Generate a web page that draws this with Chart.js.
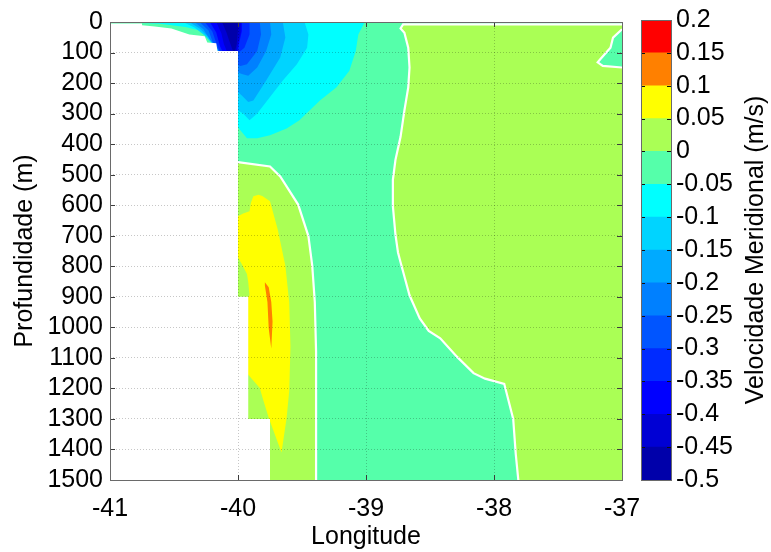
<!DOCTYPE html>
<html>
<head>
<meta charset="utf-8">
<script src="https://cdn.jsdelivr.net/npm/chart.js"></script>
<style>
  body { margin: 0; background: #fff; }
  #quadro { position: relative; width: 771px; height: 552px; }
  #quadro canvas { position: absolute; left: 0; top: 0; }
</style>
</head>
<body>
<div id="quadro">
  <canvas id="secao" width="771" height="552"></canvas>
  <canvas id="escala" width="771" height="552"></canvas>
</div>
<script>
// eixos
const lonTicks = [-41, -40, -39, -38, -37];
const depthTicks = [0, 100, 200, 300, 400, 500, 600, 700, 800, 900, 1000, 1100, 1200, 1300, 1400, 1500];

// niveis do contourf (m/s) e cor de cada faixa
const levels = [-0.5, -0.45, -0.4, -0.35, -0.3, -0.25, -0.2, -0.15, -0.1, -0.05, 0, 0.05, 0.1, 0.15, 0.2];
const bandColors = ['#0000aa', '#0000d4', '#0000ff', '#002bff', '#0055ff', '#0080ff', '#00aaff',
                    '#00d4ff', '#00ffff', '#55ffaa', '#aaff55', '#ffff00', '#ff8000', '#ff0000'];

// isolinha de 0 m/s, [longitude, profundidade]
const zeroLineEast = [[-37, 8], [-38.71, 8], [-38.73, 21], [-38.70, 35], [-38.67, 84], [-38.66, 149],
  [-38.67, 214], [-38.70, 290], [-38.73, 376], [-38.77, 452], [-38.79, 517], [-38.79, 603],
  [-38.77, 696], [-38.75, 755], [-38.73, 787], [-38.66, 895], [-38.58, 971], [-38.51, 1012],
  [-38.42, 1036], [-38.29, 1096], [-38.16, 1150], [-38.07, 1168], [-37.92, 1185], [-37.85, 1300],
  [-37.83, 1415], [-37.81, 1500]];
const zeroLineNE = [[-37, 24], [-37.07, 51], [-37.09, 84], [-37.17, 122], [-37.19, 132], [-37.15, 144], [-37, 149]];
const zeroLineWest = [[-40.0, 459], [-39.75, 473], [-39.67, 506], [-39.53, 598], [-39.45, 701],
  [-39.42, 798], [-39.40, 917], [-39.39, 1080], [-39.39, 1500]];

// nucleo positivo junto ao talude
const core005 = [[-39.84, 566], [-39.81, 570], [-39.75, 587], [-39.69, 679], [-39.63, 798], [-39.60, 917],
  [-39.59, 1063], [-39.60, 1209], [-39.62, 1296], [-39.66, 1410], [-39.70, 1365], [-39.76, 1296],
  [-39.80, 1242], [-39.83, 1199], [-39.92, 1155], [-39.96, 1155], [-39.96, 917], [-39.91, 895],
  [-39.92, 852], [-39.93, 825], [-39.97, 793], [-40.0, 771], [-40.05, 771], [-40.05, 635],
  [-40.0, 636], [-39.96, 627], [-39.91, 620], [-39.90, 593], [-39.88, 571]];
const core010 = [[-39.79, 852], [-39.76, 869], [-39.74, 917], [-39.73, 982], [-39.74, 1069],
  [-39.76, 1004], [-39.77, 917], [-39.79, 863]];

// corrente para o sul (valores negativos)
const neg005 = [[-41, 0], [-41, 3], [-40.76, 3], [-40.61, 6], [-40.41, 16], [-40.30, 28], [-40.24, 37],
  [-40.20, 60], [-40.17, 73], [-40.06, 138], [-40.06, 365], [-40.0, 344], [-39.98, 355], [-39.93, 381],
  [-39.85, 381], [-39.75, 371], [-39.62, 349], [-39.52, 322], [-39.36, 257], [-39.23, 214],
  [-39.13, 160], [-39.08, 95], [-39.06, 41], [-39.01, 0]];
const neg010 = [[-40.43, 0], [-40.34, 18], [-40.26, 44], [-40.18, 80], [-40.10, 138], [-40.08, 300],
  [-40.0, 290], [-39.96, 300], [-39.91, 322], [-39.85, 300], [-39.75, 246], [-39.65, 192],
  [-39.54, 138], [-39.46, 84], [-39.45, 41], [-39.48, 0]];
const neg015 = [[-40.38, 0], [-40.30, 21], [-40.23, 50], [-40.17, 86], [-40.10, 138], [-40.08, 242],
  [-40.0, 230], [-39.97, 241], [-39.92, 262], [-39.88, 257], [-39.78, 192], [-39.67, 116],
  [-39.63, 51], [-39.65, 0]];
const neg020 = [[-40.34, 0], [-40.27, 24], [-40.22, 57], [-40.16, 89], [-40.09, 138], [-40.06, 170],
  [-40.0, 165], [-39.97, 170], [-39.92, 176], [-39.85, 149], [-39.78, 95], [-39.74, 41], [-39.75, 0]];
const neg025 = [[-40.30, 0], [-40.23, 28], [-40.20, 63], [-40.15, 93], [-40.09, 138], [-40.05, 148],
  [-40.0, 141], [-39.98, 144], [-39.93, 138], [-39.85, 95], [-39.82, 41], [-39.83, 0]];
const neg030 = [[-40.26, 0], [-40.20, 31], [-40.17, 70], [-40.13, 106], [-40.08, 138], [-40.0, 99],
  [-39.98, 95], [-39.95, 84], [-39.91, 41], [-39.91, 0]];
const neg035 = [[-40.22, 0], [-40.17, 34], [-40.14, 80], [-40.09, 122], [-40.0, 95], [-39.99, 67],
  [-39.97, 30], [-39.97, 0]];
const neg040 = [[-40.17, 0], [-40.13, 37], [-40.11, 73], [-40.06, 122], [-40.02, 122], [-40.0, 73],
  [-39.98, 34], [-39.98, 0]];
const neg045 = [[-40.125, 0], [-40.09, 34], [-40.07, 60], [-40.03, 106], [-40.01, 73], [-40.0, 24], [-40.0, 0]];

// fundo (sem dados)
const seabed = [[-41, 5], [-40.75, 5], [-40.75, 11], [-40.65, 15], [-40.52, 21], [-40.45, 31],
  [-40.38, 41], [-40.26, 47], [-40.24, 67], [-40.17, 70], [-40.16, 95], [-40.0, 95], [-40.0, 900],
  [-39.92, 900], [-39.92, 1300], [-39.75, 1300], [-39.75, 1500], [-41, 1500]];

// regioes preenchidas, na ordem de pintura: [poligono, limite inferior da faixa]
const regions = [
  [[[-41, 0], [-37, 0], [-37, 1500], [-41, 1500]], -0.05],
  [zeroLineEast.concat([[-37, 1500]]), 0],
  [zeroLineNE, -0.05],
  [zeroLineWest.concat([[-40.1, 1500], [-40.1, 459]]), 0],
  [core005, 0.05],
  [core010, 0.1],
  [neg005, -0.1],
  [neg010, -0.15],
  [neg015, -0.2],
  [neg020, -0.25],
  [neg025, -0.3],
  [neg030, -0.35],
  [neg035, -0.4],
  [neg040, -0.45],
  [neg045, -0.5]
];

Chart.defaults.font.family = "'Liberation Sans', Arial, sans-serif";
Chart.defaults.font.size = 25;
Chart.defaults.color = '#000';

function tracePoly(ctx, x, y, pts) {
  ctx.beginPath();
  pts.forEach(([lon, dep], i) => {
    const px = x.getPixelForValue(lon);
    const py = y.getPixelForValue(dep);
    if (i === 0) ctx.moveTo(px, py); else ctx.lineTo(px, py);
  });
  ctx.closePath();
}

const contourFill = {
  id: 'contourFill',
  beforeDatasetsDraw(chart) {
    const {ctx, chartArea: a, scales: {x, y}} = chart;
    ctx.save();
    ctx.beginPath();
    ctx.rect(a.left, a.top, a.right - a.left, a.bottom - a.top);
    ctx.clip();
    regions.forEach(([pts, lower]) => {
      tracePoly(ctx, x, y, pts);
      ctx.fillStyle = bandColors[levels.indexOf(lower)];
      ctx.fill();
    });
    tracePoly(ctx, x, y, seabed);
    ctx.fillStyle = '#fff';
    ctx.fill();
    ctx.restore();
  }
};

// moldura com marcas para dentro nos quatro lados
const axesBox = {
  id: 'axesBox',
  afterDraw(chart) {
    const {ctx, chartArea: a, scales: {x, y}} = chart;
    ctx.save();
    ctx.strokeStyle = '#3c3c3c';
    ctx.lineWidth = 1;
    ctx.beginPath();
    lonTicks.forEach(v => {
      const px = Math.round(x.getPixelForValue(v)) + 0.5;
      ctx.moveTo(px, a.bottom); ctx.lineTo(px, a.bottom - 5);
      ctx.moveTo(px, a.top); ctx.lineTo(px, a.top + 5);
    });
    depthTicks.forEach(v => {
      const py = Math.round(y.getPixelForValue(v)) + 0.5;
      ctx.moveTo(a.left, py); ctx.lineTo(a.left + 5, py);
      ctx.moveTo(a.right, py); ctx.lineTo(a.right - 5, py);
    });
    ctx.stroke();
    ctx.strokeStyle = '#6a6a6a';
    ctx.strokeRect(Math.round(a.left) + 0.5, Math.round(a.top) + 0.5,
                   Math.round(a.right - a.left), Math.round(a.bottom - a.top));
    ctx.restore();
  }
};

const whiteLine = pts => ({
  data: pts.map(([lon, dep]) => ({x: lon, y: dep})),
  showLine: true,
  borderColor: '#ffffff',
  borderWidth: 2.2,
  pointRadius: 0,
  tension: 0
});

new Chart(document.getElementById('secao'), {
  type: 'scatter',
  data: {
    datasets: [whiteLine(zeroLineEast), whiteLine(zeroLineNE), whiteLine(zeroLineWest)]
  },
  options: {
    responsive: false,
    animation: false,
    events: [],
    layout: { padding: { top: 17, right: 149, bottom: 0, left: 0 } },
    plugins: { legend: { display: false }, tooltip: { enabled: false } },
    scales: {
      x: {
        type: 'linear', min: -41, max: -37,
        afterBuildTicks: s => { s.ticks = lonTicks.map(v => ({value: v})); },
        afterFit: s => { s.height = 72; },
        grid: { color: 'rgba(0,0,0,0.22)', drawTicks: false, z: 1 },
        border: { display: false, dash: [1, 2] },
        ticks: { padding: 14, autoSkip: false, maxRotation: 0, callback: v => String(v) },
        title: { display: true, text: 'Longitude', padding: { top: 0, bottom: 0 } }
      },
      y: {
        type: 'linear', min: 0, max: 1500, reverse: true,
        afterBuildTicks: s => { s.ticks = depthTicks.map(v => ({value: v})); },
        afterFit: s => { s.width = 110; },
        grid: { color: 'rgba(0,0,0,0.22)', drawTicks: false, z: 1 },
        border: { display: false, dash: [1, 2] },
        ticks: { padding: 7, autoSkip: false, callback: v => String(v) },
        title: { display: true, text: 'Profundidade (m)', padding: { top: 10, bottom: 0 } }
      }
    }
  },
  plugins: [contourFill, axesBox]
});

// barra de cores
const colorbarFrame = {
  id: 'colorbarFrame',
  afterDraw(chart) {
    const {ctx, chartArea: a, scales: {y}} = chart;
    ctx.save();
    ctx.strokeStyle = '#111';
    ctx.lineWidth = 1;
    ctx.beginPath();
    levels.forEach(v => {
      const py = Math.round(y.getPixelForValue(v)) + 0.5;
      ctx.moveTo(a.left, py); ctx.lineTo(a.left + 4, py);
      ctx.moveTo(a.right, py); ctx.lineTo(a.right - 4, py);
    });
    ctx.stroke();
    ctx.strokeStyle = '#6a6a6a';
    ctx.strokeRect(Math.round(a.left) + 0.5, Math.round(a.top) + 0.5,
                   Math.round(a.right - a.left), Math.round(a.bottom - a.top));
    ctx.translate(756, (a.top + a.bottom) / 2);
    ctx.rotate(-Math.PI / 2);
    ctx.fillStyle = '#000';
    ctx.font = "25px 'Liberation Sans', Arial, sans-serif";
    ctx.textAlign = 'center';
    ctx.textBaseline = 'middle';
    ctx.fillText('Velocidade Meridional (m/s)', 0, 0);
    ctx.restore();
  }
};

new Chart(document.getElementById('escala'), {
  type: 'bar',
  data: {
    labels: [''],
    datasets: bandColors.map((c, i) => ({
      data: [[levels[i], levels[i + 1]]],
      backgroundColor: c,
      borderWidth: 0,
      barPercentage: 1,
      categoryPercentage: 1,
      grouped: false
    }))
  },
  options: {
    responsive: false,
    animation: false,
    events: [],
    layout: { padding: { top: 17, right: 0, bottom: 72, left: 641 } },
    plugins: { legend: { display: false }, tooltip: { enabled: false } },
    scales: {
      x: { display: false },
      y: {
        position: 'right', min: -0.5, max: 0.2,
        afterBuildTicks: s => { s.ticks = levels.map(v => ({value: v})); },
        afterFit: s => { s.width = 100; },
        grid: { display: false, drawTicks: false },
        border: { display: false },
        ticks: { padding: 5, autoSkip: false, callback: v => String(Math.round(v * 100) / 100) }
      }
    }
  },
  plugins: [colorbarFrame]
});
</script>
</body>
</html>
